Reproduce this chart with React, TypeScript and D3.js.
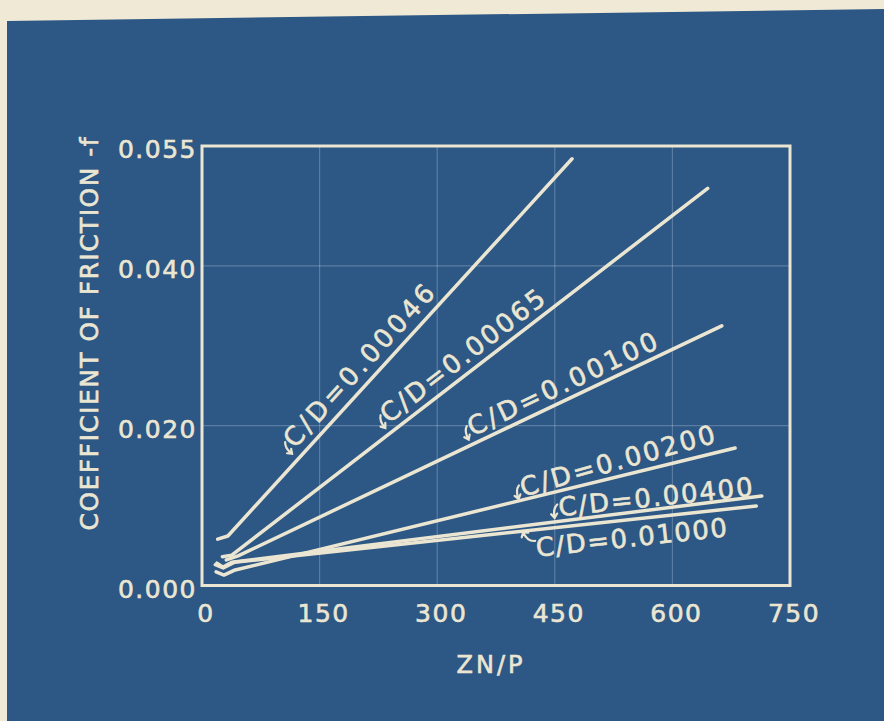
import React, { useEffect, useRef } from 'react';
import * as d3 from 'd3';

// ZN/P (x) and coefficient of friction f (y) for each clearance ratio C/D
const znP_00046 = [20, 33, 472];
const f_00046 = [0.0058, 0.0062, 0.0534];
const znP_00065 = [26, 38, 645];
const f_00065 = [0.0036, 0.0038, 0.0497];
const znP_00100 = [31, 46, 663];
const f_00100 = [0.0032, 0.0037, 0.0325];
const znP_00200 = [18, 28, 41, 680];
const f_00200 = [0.0017, 0.0013, 0.0019, 0.0172];
const znP_00400 = [19, 27, 38, 714];
const f_00400 = [0.0028, 0.0023, 0.0029, 0.0112];
const znP_01000 = [17, 27, 41, 707];
const f_01000 = [0.0026, 0.0022, 0.0029, 0.00995];

const curveLabels = ['C/D=0.00046', 'C/D=0.00065', 'C/D=0.00100', 'C/D=0.00200', 'C/D=0.00400', 'C/D=0.01000'];

const xTicks = [0, 150, 300, 450, 600, 750];
const yTicks = [0.0, 0.02, 0.04, 0.055];
const xGrid = [150, 300, 450, 600];
const yGrid = [0.02, 0.04];

export default function App() {
    const ref = useRef<SVGSVGElement | null>(null);

    useEffect(() => {
        const width = 884;
        const height = 721;
        const blue = '#2d5784';
        const ink = '#ebe6d2';
        const font = '"DejaVu Sans", sans-serif';

        const svg = d3.select(ref.current);
        svg.selectAll('*').remove();

        // paper edge and blueprint sheet
        svg.append('rect').attr('width', width).attr('height', height).attr('fill', '#efe9d6');
        svg.append('polygon')
            .attr('points', `7,21 ${width},9 ${width},${height} 7,${height}`)
            .attr('fill', blue);

        const x = d3.scaleLinear().domain([0, 750]).range([202, 790]);
        const y = d3.scaleLinear().domain([0, 0.055]).range([585.5, 146]);

        // faint grid
        svg.append('g').selectAll('line').data(xGrid).join('line')
            .attr('x1', d => x(d)).attr('x2', d => x(d))
            .attr('y1', y(0.055)).attr('y2', y(0))
            .attr('stroke', 'rgba(200,212,228,0.3)').attr('stroke-width', 1.2);
        svg.append('g').selectAll('line').data(yGrid).join('line')
            .attr('x1', x(0)).attr('x2', x(750))
            .attr('y1', d => y(d)).attr('y2', d => y(d))
            .attr('stroke', 'rgba(200,212,228,0.3)').attr('stroke-width', 1.2);

        // frame
        svg.append('rect')
            .attr('x', x(0)).attr('y', y(0.055))
            .attr('width', x(750) - x(0)).attr('height', y(0) - y(0.055))
            .attr('fill', 'none').attr('stroke', ink).attr('stroke-width', 3);

        // tick labels
        svg.append('g').selectAll('text').data(xTicks).join('text')
            .attr('x', d => x(d) + 4).attr('y', 622)
            .attr('text-anchor', 'middle')
            .attr('font-family', font).attr('font-size', 25).attr('letter-spacing', 1.5)
            .attr('fill', ink).attr('stroke', ink).attr('stroke-width', 0.6)
            .text(d => String(d));
        svg.append('g').selectAll('text').data(yTicks).join('text')
            .attr('x', 197).attr('y', d => y(d) + 12)
            .attr('text-anchor', 'end')
            .attr('font-family', font).attr('font-size', 25).attr('letter-spacing', 1.5)
            .attr('fill', ink).attr('stroke', ink).attr('stroke-width', 0.6)
            .text(d => d3.format('.3f')(d));

        // axis titles
        svg.append('text')
            .attr('x', 491).attr('y', 673)
            .attr('text-anchor', 'middle')
            .attr('font-family', font).attr('font-size', 24).attr('letter-spacing', 3)
            .attr('fill', ink).attr('stroke', ink).attr('stroke-width', 0.6)
            .text('ZN/P');
        svg.append('text')
            .attr('transform', 'translate(98,334) rotate(-90)')
            .attr('text-anchor', 'middle')
            .attr('font-family', font).attr('font-size', 25)
            .attr('textLength', 393).attr('lengthAdjust', 'spacing')
            .attr('fill', ink).attr('stroke', ink).attr('stroke-width', 0.6)
            .text('COEFFICIENT  OF  FRICTION -f');

        // curves
        const xs = [znP_00046, znP_00065, znP_00100, znP_00200, znP_00400, znP_01000];
        const ys = [f_00046, f_00065, f_00100, f_00200, f_00400, f_01000];
        const line = d3.line<[number, number]>()
            .x(d => x(d[0]))
            .y(d => y(d[1]));

        xs.forEach((zx, i) => {
            const pts = zx.map((v, k) => [v, ys[i][k]] as [number, number]);
            svg.append('path')
                .attr('d', line(pts))
                .attr('fill', 'none')
                .attr('stroke', ink)
                .attr('stroke-width', 3.5)
                .attr('stroke-linecap', 'round')
                .attr('stroke-linejoin', 'round');
        });

        // labels along the curves: start pixel x, offset from the line, text length, extra tilt
        const labelStart = [300, 392, 474, 522, 558, 532];
        const labelOffset = [9, 8, 7, 3, 5, -27];
        const labelLength = [210, 200, 207, 201, 195, 192];
        const labelTilt = [0, 0, 0, -2, 1, 0];

        xs.forEach((zx, i) => {
            const n = zx.length;
            const x1 = x(zx[n - 2]), y1 = y(ys[i][n - 2]);
            const x2 = x(zx[n - 1]), y2 = y(ys[i][n - 1]);
            const ang = Math.atan2(y2 - y1, x2 - x1) * 180 / Math.PI + labelTilt[i];
            const px = labelStart[i];
            const py = y1 + (y2 - y1) * (px - x1) / (x2 - x1);
            const g = svg.append('g').attr('transform', `translate(${px},${py}) rotate(${ang})`);
            const off = labelOffset[i];
            g.append('text')
                .attr('x', 2).attr('y', -off)
                .attr('font-family', font).attr('font-size', 26)
                .attr('textLength', labelLength[i]).attr('lengthAdjust', 'spacing')
                .attr('fill', ink).attr('stroke', ink).attr('stroke-width', 0.6)
                .text(curveLabels[i]);
            // little leader hook pointing to the curve
            const hook = off > 0
                ? `M 1 ${-off - 12} Q -4 ${-off - 8} -3 ${-off + 1} M -6 ${-off - 3} L -3 ${-off + 1} L 0 ${-off - 3}`
                : `M 2 ${-off - 16} Q -6 ${-off - 16} -9 ${-off - 26} M -11 ${-off - 21} L -9 ${-off - 26} L -4 ${-off - 25}`;
            g.append('path')
                .attr('d', hook)
                .attr('fill', 'none').attr('stroke', ink).attr('stroke-width', 2.2)
                .attr('stroke-linecap', 'round');
        });
    }, []);

    return (
        <svg ref={ref} width={884} height={721}
            style={{ position: 'absolute', left: 0, top: 0, display: 'block' }} />
    );
}
